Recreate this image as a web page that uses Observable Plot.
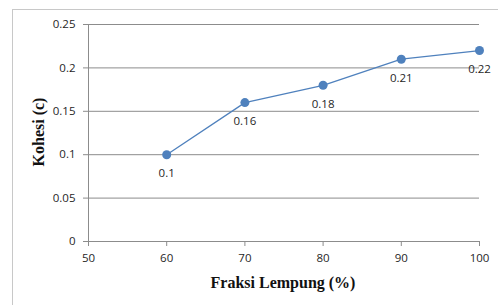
<!DOCTYPE html>
<html>
<head>
<meta charset="utf-8">
<script src="https://cdn.jsdelivr.net/npm/d3@7"></script>
<script src="https://cdn.jsdelivr.net/npm/@observablehq/plot@0.6"></script>
<style>
  html, body { margin: 0; padding: 0; background: #fff; overflow: hidden; }
  #wrap { position: relative; width: 498px; height: 305px; }
  #box { position: absolute; left: 12px; top: 9px; width: 500px; height: 310px; border: 1px solid #c8c8c8; box-sizing: border-box; }
  #chart { position: absolute; left: 0; top: 0; }
</style>
</head>
<body>
<div id="wrap"><div id="box"></div><div id="chart"></div></div>
<script>
const fraksi = [60, 70, 80, 90, 100];
const kohesi = [0.1, 0.16, 0.18, 0.21, 0.22];
const labels = ["0.1", "0.16", "0.18", "0.21", "0.22"];
const xTicks = [50, 60, 70, 80, 90, 100];
const yTicks = [0, 0.05, 0.1, 0.15, 0.2, 0.25];
const xTitle = "Fraksi Lempung (%)";
const yTitle = "Kohesi (c)";

const data = fraksi.map((f, i) => ({x: f, y: kohesi[i], label: labels[i]}));
const blue = "#4f81bd";
const grid = "#8c8c8c";

const plot = Plot.plot({
  width: 498,
  height: 305,
  marginLeft: 88,
  marginRight: 19,
  marginTop: 24,
  marginBottom: 64,
  style: {fontFamily: "'Open Sans', sans-serif", fontSize: "11.5px", color: "#1f1f1f", background: "transparent", overflow: "visible"},
  x: {domain: [50, 100], ticks: xTicks},
  y: {domain: [0, 0.25], ticks: yTicks},
  marks: [
    Plot.ruleY(yTicks, {stroke: grid, strokeWidth: 1}),
    Plot.ruleX([50], {stroke: grid, strokeWidth: 1}),
    Plot.axisX({ticks: xTicks, tickSize: 5, tickPadding: 7, stroke: grid, tickFormat: d => String(d), label: null}),
    Plot.axisY({ticks: yTicks, tickSize: 5, tickPadding: 8, stroke: grid, tickFormat: d => String(d), label: null}),
    Plot.line(data, {x: "x", y: "y", stroke: blue, strokeWidth: 1.3}),
    Plot.dot(data, {x: "x", y: "y", r: 4.5, fill: blue, stroke: "none"}),
    Plot.text(data, {x: "x", y: "y", text: "label", dy: 19, fill: "#1f1f1f", fontSize: 11.5})
  ]
});
document.getElementById("chart").appendChild(plot);

// axis titles
const svg = d3.select(plot);
svg.append("text")
  .attr("x", 283).attr("y", 288)
  .attr("text-anchor", "middle")
  .style("font-family", "'Liberation Serif', 'Times New Roman', serif")
  .style("font-weight", "bold").style("font-size", "16px").attr("fill", "#111")
  .text(xTitle);
svg.append("text")
  .attr("transform", "translate(44,132) rotate(-90)")
  .attr("text-anchor", "middle")
  .style("font-family", "'Liberation Serif', 'Times New Roman', serif")
  .style("font-weight", "bold").style("font-size", "16px").attr("fill", "#111")
  .text(yTitle);
</script>
</body>
</html>
